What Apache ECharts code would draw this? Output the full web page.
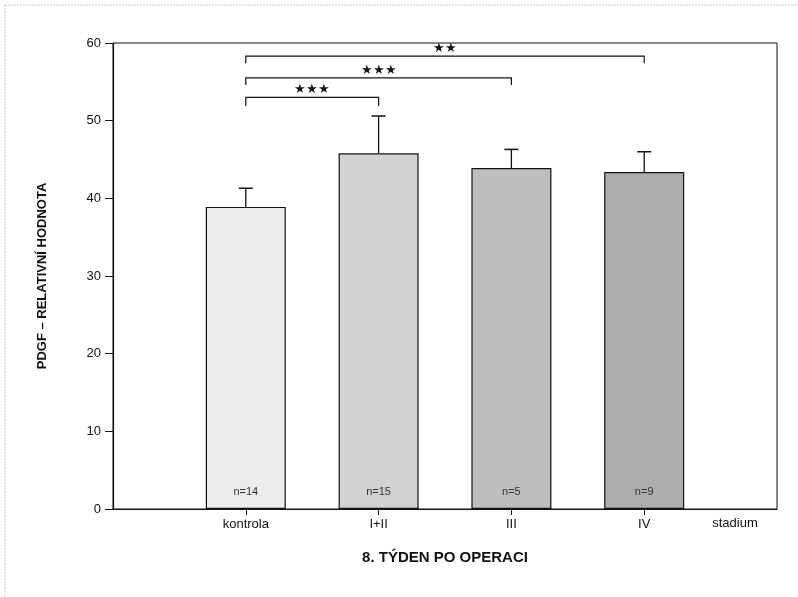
<!DOCTYPE html>
<html>
<head>
<meta charset="utf-8">
<script src="https://cdn.jsdelivr.net/npm/echarts@6/dist/echarts.min.js"></script>
<style>
  html, body { margin: 0; padding: 0; background: #fff; }
  #chart { width: 798px; height: 597px; }
</style>
</head>
<body>
<div id="chart"></div>
<script>
// PDGF relative values by tumour stage, 8th week after surgery
const categories = ['kontrola', 'I+II', 'III', 'IV'];
const means = [38.9, 45.8, 43.9, 43.4];
const errTops = [41.3, 50.6, 46.3, 46.0];
const counts = ['n=14', 'n=15', 'n=5', 'n=9'];
const barColors = ['#ececec', '#d2d2d2', '#bebebe', '#adadad'];
const yTicks = [0, 10, 20, 30, 40, 50, 60];

// significance brackets: from group, to group, bracket level, leg end, stars
const bracketFrom = ['kontrola', 'kontrola', 'kontrola'];
const bracketTo = ['I+II', 'III', 'IV'];
const bracketLevel = [53.0, 55.5, 58.3];
const bracketLeg = [51.9, 54.6, 57.4];
const bracketStars = ['★★★', '★★★', '★★'];

// the category axis has an empty slot at each end so groups sit at 1..4
const axisCats = [''].concat(categories, ['']);
const idx = name => axisCats.indexOf(name);

const font = '"Liberation Sans", Arial, sans-serif';

const chart = echarts.init(document.getElementById('chart'));

const barData = categories.map((c, i) => ({
  value: [c, means[i]],
  itemStyle: { color: barColors[i] },
  label: { formatter: counts[i] }
}));

const errData = categories.map((c, i) => [idx(c), means[i], errTops[i]]);
const bracketData = bracketFrom.map((f, i) => [idx(f), idx(bracketTo[i]), bracketLevel[i], bracketLeg[i]]);

chart.setOption({
  animation: false,
  backgroundColor: '#fff',
  textStyle: { fontFamily: font },
  grid: {
    left: 113, right: 21, top: 43, bottom: 88,
    show: true, borderColor: '#111', borderWidth: 1, backgroundColor: 'transparent'
  },
  graphic: [
    { type: 'line', shape: { x1: 5, y1: 5, x2: 798, y2: 5 }, style: { stroke: '#c8c8c8', lineWidth: 1, lineDash: [2, 1] }, silent: true },
    { type: 'line', shape: { x1: 5, y1: 5, x2: 5, y2: 597 }, style: { stroke: '#c8c8c8', lineWidth: 1, lineDash: [2, 1] }, silent: true }
  ],
  xAxis: [{
    type: 'category',
    data: axisCats,
    boundaryGap: false,
    axisLine: { lineStyle: { color: '#111', width: 1 } },
    axisTick: {
      show: true, length: 6, inside: false,
      interval: (i, v) => v !== '',
      lineStyle: { color: '#111' }
    },
    axisLabel: {
      interval: 0, margin: 9,
      color: '#111', fontSize: 13, fontFamily: font
    },
    splitLine: { show: false },
    name: '8. TÝDEN PO OPERACI',
    nameLocation: 'middle',
    nameGap: 41,
    nameTextStyle: { color: '#111', fontSize: 15, fontWeight: 'bold', fontFamily: font }
  }, {
    type: 'category',
    position: 'bottom',
    data: axisCats,
    boundaryGap: false,
    axisLine: { show: false },
    axisTick: { show: false },
    axisLabel: { show: false },
    name: 'stadium',
    nameLocation: 'end',
    nameGap: -42,
    nameTextStyle: {
      color: '#111', fontSize: 13, fontFamily: font,
      align: 'center', verticalAlign: 'top', padding: [8, 0, 0, 0]
    }
  }],
  yAxis: {
    type: 'value',
    min: yTicks[0], max: yTicks[yTicks.length - 1], interval: 10,
    axisLine: { show: true, lineStyle: { color: '#111', width: 1.2 } },
    axisTick: { show: true, length: 8, lineStyle: { color: '#111' } },
    axisLabel: { margin: 12, color: '#111', fontSize: 13, fontFamily: font },
    splitLine: { show: false },
    name: 'PDGF – RELATIVNÍ HODNOTA',
    nameLocation: 'middle',
    nameGap: 64,
    nameRotate: 90,
    nameTextStyle: { color: '#111', fontSize: 13, fontWeight: 'bold', fontFamily: font }
  },
  series: [{
    type: 'bar',
    data: barData,
    barWidth: 80,
    itemStyle: { borderColor: '#111', borderWidth: 1.2 },
    label: {
      show: true, position: 'insideBottom', distance: 12,
      color: '#333', fontSize: 11, fontFamily: font
    },
    z: 2
  }, {
    type: 'custom',
    data: errData,
    encode: { x: 0, y: [1, 2] },
    renderItem: (params, api) => {
      const base = api.coord([api.value(0), api.value(1)]);
      const top = api.coord([api.value(0), api.value(2)]);
      const half = 7;
      return {
        type: 'group',
        children: [
          { type: 'line', shape: { x1: base[0], y1: base[1], x2: top[0], y2: top[1] }, style: { stroke: '#111', lineWidth: 1.3 } },
          { type: 'line', shape: { x1: top[0] - half, y1: top[1], x2: top[0] + half, y2: top[1] }, style: { stroke: '#111', lineWidth: 1.5 } }
        ]
      };
    },
    z: 3
  }, {
    type: 'custom',
    data: bracketData,
    encode: { x: [0, 1], y: [2, 3] },
    renderItem: (params, api) => {
      const a = api.coord([api.value(0), api.value(2)]);
      const b = api.coord([api.value(1), api.value(2)]);
      const legY = api.coord([api.value(0), api.value(3)])[1];
      const stars = bracketStars[params.dataIndex];
      return {
        type: 'group',
        children: [
          { type: 'polyline', shape: { points: [[a[0], legY], [a[0], a[1]], [b[0], b[1]], [b[0], legY]] }, style: { stroke: '#111', lineWidth: 1.2, fill: null } },
          { type: 'text', style: { x: (a[0] + b[0]) / 2, y: a[1] - 1, text: stars, textAlign: 'center', textVerticalAlign: 'bottom', fill: '#111', font: '13px ' + font } }
        ]
      };
    },
    z: 3
  }]
});
</script>
</body>
</html>
